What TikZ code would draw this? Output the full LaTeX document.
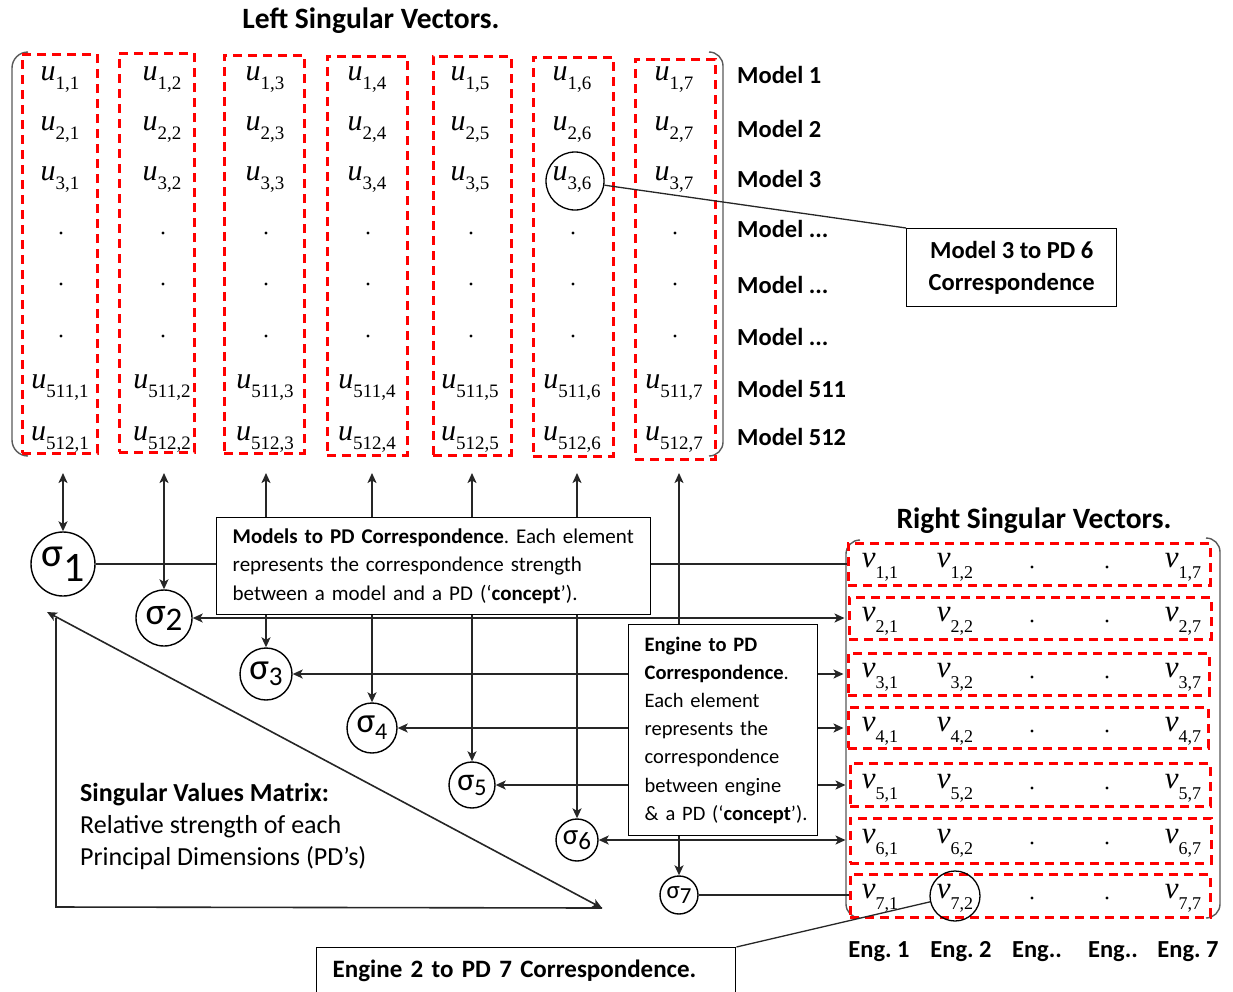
\documentclass[tikz,border=0pt]{standalone}
\usepackage{fontspec}
\setmainfont{Carlito}
\newfontfamily\tnr{Liberation Serif}
\usetikzlibrary{arrows.meta}
\frenchspacing
\newcommand{\fsz}[1]{\fontsize{#1}{#1}\selectfont}
\newcommand{\fsl}[2]{\fontsize{#1}{#2}\selectfont}
\newcommand{\uent}[1]{{\tnr\fsz{30}\itshape u}\raisebox{-9pt}{\tnr\fsz{19}#1}}
\newcommand{\vent}[1]{{\tnr\fsz{31}\itshape v}\raisebox{-11pt}{\tnr\fsz{18}#1}}
\newcommand{\sgm}[4]{{\fsz{#1}σ}\raisebox{-#3pt}{\fsz{#2}#4}}
\begin{document}
\begin{tikzpicture}[x=1pt,y=-1pt,
  >={Stealth[length=10pt,width=9pt,inset=2.5pt]},
  redbox/.style={draw=red, line width=3pt, dash pattern=on 9pt off 6pt, inner sep=0pt},
  conn/.style={line width=1.6pt, draw=black!85},
  thinconn/.style={line width=1.3pt, draw=black!85},
  brk/.style={line width=1.4pt, draw=black!65},
  sig/.style={circle, draw, line width=1.4pt, inner sep=0pt, fill=white},
  hl/.style={circle, draw, line width=1.3pt, inner sep=0pt},
  txtbox/.style={draw, line width=1.4pt, fill=white},
  ent/.style={anchor=base, inner sep=0pt},
  dotn/.style={circle, fill=black, inner sep=0pt, minimum size=3.2pt},
  mlab/.style={anchor=base west, inner sep=0pt, font=\fsz{24.5}\bfseries},
  elab/.style={anchor=base, inner sep=0pt, font=\fsz{24.5}\bfseries},
  ttl/.style={anchor=base, inner sep=0pt, font=\fsz{29.5}\bfseries},
]
\useasboundingbox (0,0) rectangle (1233,991);

% titles
\node[ttl] (ltitle) at (371,28) {Left Singular Vectors.};
\node[ttl] (rtitle) at (1034,528) {Right Singular Vectors.};

% left matrix brackets
\draw[brk, rounded corners=16pt] (28,52) -- (12,52) -- (12,456) -- (28,456);
\draw[brk, rounded corners=14pt] (709,52) -- (723,52) -- (723,456) -- (709,456);

% column boxes
\node[redbox, minimum width=75pt, minimum height=399pt] (c1) at (59.5,253.5) {};
\node[redbox, minimum width=75pt, minimum height=399pt] (c2) at (156.5,252.5) {};
\node[redbox, minimum width=80pt, minimum height=398pt] (c3) at (264,254) {};
\node[redbox, minimum width=80pt, minimum height=399pt] (c4) at (367,255.5) {};
\node[redbox, minimum width=78pt, minimum height=399pt] (c5) at (472,255.5) {};
\node[redbox, minimum width=80pt, minimum height=399pt] (c6) at (573,256.5) {};
\node[redbox, minimum width=80pt, minimum height=400pt] (c7) at (675,259) {};

% u entries
\foreach \c/\x in {1/60,2/162,3/265,4/367,5/470,6/572,7/674}{
  \node[ent] (u1-\c) at (\x,80) {\uent{1,\c}};
  \node[ent] (u2-\c) at (\x,130) {\uent{2,\c}};
  \node[ent] (u3-\c) at (\x,180) {\uent{3,\c}};
  \node[dotn] (ud1-\c) at (\x+1,233) {};
  \node[dotn] (ud2-\c) at (\x+1,284) {};
  \node[dotn] (ud3-\c) at (\x+1,336) {};
  \node[ent] (u511-\c) at (\x,388) {\uent{511,\c}};
  \node[ent] (u512-\c) at (\x,440) {\uent{512,\c}};
}
\node[hl, minimum size=58pt] (hlu) at (575,181) {};

% model labels
\node[mlab] (ml1) at (737,83) {Model 1};
\node[mlab] (ml2) at (737,137) {Model 2};
\node[mlab] (ml3) at (737,187) {Model 3};
\node[mlab] (ml4) at (737,237) {Model ...};
\node[mlab] (ml5) at (737,293) {Model ...};
\node[mlab] (ml6) at (737,345) {Model ...};
\node[mlab] (ml7) at (737,397) {Model 511};
\node[mlab] (ml8) at (737,445) {Model 512};

% right matrix brackets
\draw[brk, rounded corners=14pt] (860,540) -- (846,540) -- (846,918) -- (860,918);
\draw[brk, rounded corners=14pt] (1206,538) -- (1220,538) -- (1220,918) -- (1206,918);

% row boxes
\node[redbox, minimum width=362pt, minimum height=42pt] (r1) at (1029,564) {};
\node[redbox, minimum width=362pt, minimum height=42pt] (r2) at (1030,618) {};
\node[redbox, minimum width=361pt, minimum height=42pt] (r3) at (1028.5,674) {};
\node[redbox, minimum width=360pt, minimum height=41pt] (r4) at (1028,727.5) {};
\node[redbox, minimum width=360pt, minimum height=43pt] (r5) at (1030,784.5) {};
\node[redbox, minimum width=361pt, minimum height=45pt] (r6) at (1030.5,840.5) {};
\node[redbox, minimum width=360pt, minimum height=43pt] (r7) at (1030,895.5) {};

% v entries
\foreach \r/\y in {1/567,2/621,3/677,4/731,5/788,6/843,7/898}{
  \node[ent] (v\r-1) at (880,\y) {\vent{\r,1}};
  \node[ent] (v\r-2) at (955,\y) {\vent{\r,2}};
  \node[dotn] (vd\r-a) at (1032,\y) {};
  \node[dotn] (vd\r-b) at (1107,\y) {};
  \node[ent] (v\r-7) at (1183,\y) {\vent{\r,7}};
}
\node[hl, minimum size=50pt] (hlv) at (955,896) {};

% engine labels
\node[elab] (e1) at (879,957) {Eng. 1};
\node[elab] (e2) at (961,957) {Eng. 2};
\node[elab] (e3) at (1037,957) {Eng..};
\node[elab] (e4) at (1113,957) {Eng..};
\node[elab] (e5) at (1188,957) {Eng. 7};

% sigma nodes
\node[sig, minimum size=64pt] (s1) at (63,564) {\sgm{41}{42}{15}{1}};
\node[sig, minimum size=56pt] (s2) at (164,618) {\sgm{38}{33}{6}{2}};
\node[sig, minimum size=52pt] (s3) at (266,674) {\sgm{37}{27}{6}{3}};
\node[sig, minimum size=50pt] (s4) at (372,728) {\sgm{35}{24}{7}{4}};
\node[sig, minimum size=46pt] (s5) at (472,785) {\sgm{32}{24}{5}{5}};
\node[sig, minimum size=42pt] (s6) at (577,840) {\sgm{29}{25}{5}{6}};
\node[sig, minimum size=38pt] (s7) at (679,895) {\sgm{25}{23}{5}{7}};

% connectors sigma -> columns
\coordinate (tipline) at (0,473);
\foreach \i in {1,...,7}{
  \draw[conn,<->] (s\i) -- (s\i |- tipline);
}
% connectors sigma -> rows
\draw[conn] (s1) -- (s1 -| r1.west);
\foreach \i in {2,...,6}{
  \draw[conn,<->,shorten >=3pt] (s\i) -- (s\i -| r\i.west);
}
\draw[conn] (s7) -- (s7 -| r7.west);

% singular values triangle
\coordinate (ta) at (47,612);
\coordinate (tv) at (56,618);
\coordinate (tc) at (56,907);
\coordinate (tb) at (602,908);
\draw[conn] (tv) -- (tc) -- (tb);
\draw[conn,<->] (ta) -- (tb);
\node[anchor=west, align=left, inner sep=0pt, font=\fsl{26}{32}] (svtext) at (80,826)
  {\textbf{Singular Values Matrix:}\\Relative strength of each\\Principal Dimensions (PD’s)};

% text boxes
\node[txtbox, anchor=north west, text width=402pt, inner xsep=16pt, minimum height=97pt,
  align=left, font=\fsl{21}{28.5}] (mbox) at (216,517)
  {\mbox{\textbf{Models to PD Correspondence}. Each element}\\
   \mbox{represents the correspondence strength}\\
   \mbox{between a model and a PD (‘\textbf{concept}’).}};
\node[txtbox, anchor=north west, text width=157pt, inner xsep=16pt, minimum height=211pt,
  align=left, font=\fsl{20.5}{28.2}] (ebox) at (628,624)
  {\mbox{\textbf{Engine to PD}}\\
   \mbox{\textbf{Correspondence}.}\\
   \mbox{Each element}\\
   \mbox{represents the}\\
   \mbox{correspondence}\\
   \mbox{between engine}\\
   \mbox{\& a PD (‘\textbf{concept}’).}};
\node[txtbox, anchor=north west, minimum width=210pt, minimum height=78pt, align=center,
  font=\fsl{24.5}{32}\bfseries] (m3box) at (906,228) {Model 3 to PD 6\\Correspondence};
\node[txtbox, anchor=north west, text width=387pt, inner xsep=16pt, minimum height=46pt,
  align=left, font=\fsz{25}\bfseries] (e2box) at (316,947) {Engine 2 to PD 7 Correspondence.};

\draw[thinconn] (hlu) -- (m3box.north west);
\draw[thinconn] (e2box.north east) -- (hlv);
\end{tikzpicture}
\end{document}
